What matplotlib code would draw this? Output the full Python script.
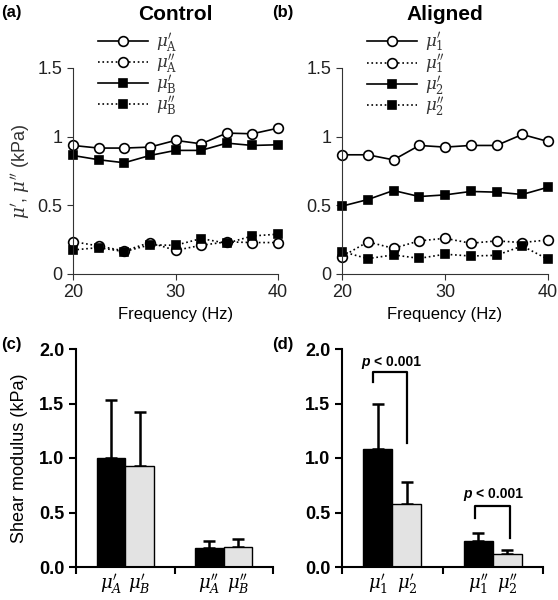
import numpy as np
import matplotlib
matplotlib.use('Agg')
import matplotlib.pyplot as plt

plt.rcParams['font.family'] = ['Liberation Sans', 'DejaVu Sans']
plt.rcParams['mathtext.fontset'] = 'dejavuserif'

# frequency sweep (Hz)
freq = [20, 22.5, 25, 27.5, 30, 32.5, 35, 37.5, 40]

# (a) control
muA1 = [0.936, 0.917, 0.917, 0.924, 0.973, 0.948, 1.026, 1.021, 1.062]
muA2 = [0.236, 0.204, 0.168, 0.229, 0.172, 0.209, 0.234, 0.229, 0.229]
muB1 = [0.863, 0.832, 0.810, 0.863, 0.900, 0.900, 0.953, 0.936, 0.941]
muB2 = [0.175, 0.192, 0.163, 0.212, 0.209, 0.258, 0.224, 0.277, 0.290]

# (b) aligned
mu1_1 = [0.868, 0.868, 0.831, 0.936, 0.924, 0.936, 0.936, 1.016, 0.965]
mu1_2 = [0.127, 0.234, 0.187, 0.241, 0.260, 0.224, 0.241, 0.229, 0.248]
mu2_1 = [0.494, 0.542, 0.608, 0.564, 0.576, 0.601, 0.596, 0.579, 0.632]
mu2_2 = [0.163, 0.112, 0.139, 0.114, 0.144, 0.131, 0.136, 0.204, 0.107]

# (c)/(d) mean shear modulus with upper error
ctrl_mean = [1.00, 0.93, 0.17, 0.18]
ctrl_err = [0.53, 0.49, 0.07, 0.08]
ctrl_labels = [r"$\mu^{\prime}_{A}$", r"$\mu^{\prime}_{B}$", r"$\mu^{\prime\prime}_{A}$", r"$\mu^{\prime\prime}_{B}$"]
alig_mean = [1.08, 0.58, 0.24, 0.12]
alig_err = [0.42, 0.20, 0.07, 0.04]
alig_labels = [r"$\mu^{\prime}_{1}$", r"$\mu^{\prime}_{2}$", r"$\mu^{\prime\prime}_{1}$", r"$\mu^{\prime\prime}_{2}$"]

W, H = 558, 600
fig = plt.figure(figsize=(W / 100, H / 100), dpi=100)

def box(x0, x1, ytop, ybot):
    return [x0 / W, 1 - ybot / H, (x1 - x0) / W, (ybot - ytop) / H]

def line_panel(ax, series, labels, title, tag, tagx, ylabel):
    styles = [('o', '-', 'white'), ('o', ':', 'white'), ('s', '-', 'black'), ('s', ':', 'black')]
    for y, lab, (m, ls, fc) in zip(series, labels, styles):
        ax.plot(freq, y, linestyle=ls, color='black', lw=1.2, marker=m,
                markersize=7 if m == 'o' else 6, markerfacecolor=fc,
                markeredgecolor='black', markeredgewidth=1.2, label=lab, clip_on=False)
    ax.set_xlim(20, 40)
    ax.set_ylim(0, 1.5)
    ax.set_xticks([20, 30, 40])
    ax.set_yticks([0, 0.5, 1, 1.5])
    ax.set_yticklabels(['0', '0.5', '1', '1.5'])
    for s in ['top', 'right']:
        ax.spines[s].set_visible(False)
    for s in ['left', 'bottom']:
        ax.spines[s].set_color('#333333')
    ax.tick_params(labelsize=13, length=4, colors='#333333', labelcolor='#222222')
    ax.set_xlabel('Frequency (Hz)', fontsize=12, labelpad=4)
    if ylabel:
        ax.set_ylabel(r"$\mu^{\prime}$, $\mu^{\prime\prime}$ (kPa)", fontsize=13,
                      color='#333333', labelpad=4)
    leg = ax.legend(loc='upper left', bbox_to_anchor=(0.08, 1.22), frameon=False,
                    fontsize=12, handlelength=3.0, handletextpad=0.5,
                    labelspacing=-0.1, borderpad=0)
    for t in leg.get_texts():
        t.set_color('#333333')
    bb = ax.get_position()
    fig.text((bb.x0 + bb.x1) / 2, 1 - 15 / H, title, ha='center', va='center',
             fontsize=15, fontweight='bold')
    fig.text(tagx / W, 1 - 13 / H, tag, ha='left', va='center', fontsize=12, fontweight='bold')

def bar_panel(ax, means, errs, labels, tag, tagx, ylabel):
    xs = [0.355, 0.645, 1.355, 1.645]
    colors = ['black', '#e3e3e3', 'black', '#e3e3e3']
    ax.bar(xs, means, width=0.29, color=colors, edgecolor='black', linewidth=1.0, zorder=2)
    ax.errorbar(xs, means, yerr=[[0] * 4, errs], fmt='none', ecolor='black',
                elinewidth=1.8, capsize=4, capthick=1.8, zorder=1)
    ax.set_xlim(0, 2)
    ax.set_ylim(0, 2.0)
    ax.set_xticks([0, 1, 2])
    ax.set_xticklabels([])
    ax.set_yticks([0, 0.5, 1.0, 1.5, 2.0])
    ax.set_yticklabels(['0.0', '0.5', '1.0', '1.5', '2.0'], fontweight='bold')
    for s in ['top', 'right']:
        ax.spines[s].set_visible(False)
    for s in ['left', 'bottom']:
        ax.spines[s].set_linewidth(1.5)
    ax.tick_params(labelsize=13, length=5, width=1.5)
    for x, lab in zip(xs, labels):
        ax.text(x, -0.165, lab, ha='center', va='center', fontsize=13, clip_on=False)
    if ylabel:
        ax.set_ylabel('Shear modulus (kPa)', fontsize=13, labelpad=8)
    fig.text(tagx / W, 1 - 345 / H, tag, ha='left', va='center', fontsize=12, fontweight='bold')

def bracket(ax, x0, x1, ytop, yl, yr, ytxt):
    ax.plot([x0, x0, x1, x1], [yl, ytop, ytop, yr], color='black', lw=1.6)
    xc = (x0 + x1) / 2
    ax.annotate('p', xy=(xc, ytxt), xytext=(-20, 0), textcoords='offset pixels',
                ha='right', va='center', fontsize=10, fontweight='bold', fontstyle='italic')
    ax.annotate('< 0.001', xy=(xc, ytxt), xytext=(-16, 0), textcoords='offset pixels',
                ha='left', va='center', fontsize=10, fontweight='bold')

ax_a = fig.add_axes(box(73, 278, 68, 274))
line_panel(ax_a, [muA1, muA2, muB1, muB2],
           [r"$\mu^{\prime}_{\mathrm{A}}$", r"$\mu^{\prime\prime}_{\mathrm{A}}$",
            r"$\mu^{\prime}_{\mathrm{B}}$", r"$\mu^{\prime\prime}_{\mathrm{B}}$"],
           'Control', '(a)', 1, True)

ax_b = fig.add_axes(box(342, 548, 68, 274))
line_panel(ax_b, [mu1_1, mu1_2, mu2_1, mu2_2],
           [r"$\mu^{\prime}_{1}$", r"$\mu^{\prime\prime}_{1}$",
            r"$\mu^{\prime}_{2}$", r"$\mu^{\prime\prime}_{2}$"],
           'Aligned', '(b)', 272, False)

ax_c = fig.add_axes(box(76, 273, 349, 567))
bar_panel(ax_c, ctrl_mean, ctrl_err, ctrl_labels, '(c)', 1, True)

ax_d = fig.add_axes(box(342, 543, 349, 567))
bar_panel(ax_d, alig_mean, alig_err, alig_labels, '(d)', 272, False)
bracket(ax_d, 0.31, 0.645, 1.79, 1.70, 1.14, 1.88)
bracket(ax_d, 1.32, 1.67, 0.56, 0.45, 0.27, 0.67)

fig.savefig('out.png', dpi=100)
